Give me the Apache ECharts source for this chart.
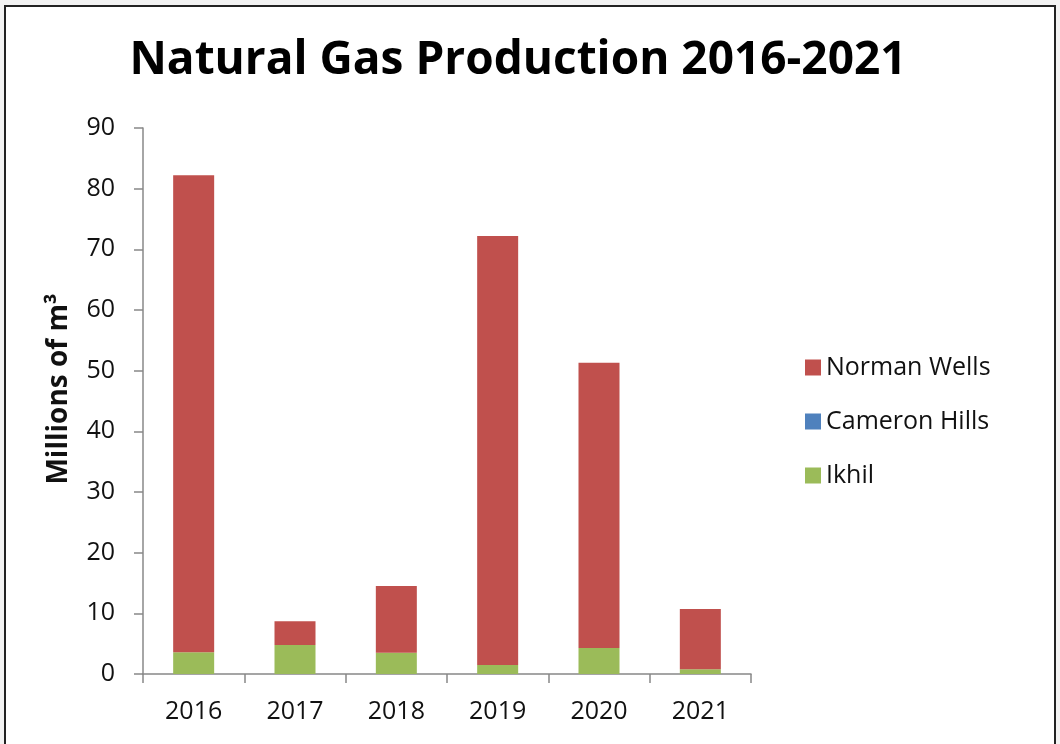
<!DOCTYPE html>
<html>
<head>
<meta charset="utf-8">
<script src="https://cdn.jsdelivr.net/npm/echarts@6/dist/echarts.min.js"></script>
<style>
  html, body { margin: 0; padding: 0; background: #f2f2f2; }
  #frame { position: absolute; left: 4px; top: 5px; width: 1048px; height: 760px; border: 2px solid #222; background: #fff; }
  #chart { position: absolute; left: 0; top: 0; width: 1060px; height: 744px; }
</style>
</head>
<body>
<div id="frame"></div>
<div id="chart"></div>
<script>
const years = ['2016', '2017', '2018', '2019', '2020', '2021'];
const ikhil = [3.6, 4.8, 3.5, 1.5, 4.3, 0.8];
const cameronHills = [0, 0, 0, 0, 0, 0];
const normanWells = [78.6, 3.9, 11.0, 70.7, 47.0, 9.9];

const chart = echarts.init(document.getElementById('chart'));
const font = '"Open Sans", "Noto Sans", sans-serif';

const option = {
    backgroundColor: 'transparent',
    animation: false,
    title: {
        text: 'Natural Gas Production 2016-2021',
        left: 513,
        top: 33,
        textAlign: 'center',
        textStyle: {
            fontFamily: font,
            fontWeight: 'bold',
            fontSize: 46,
            color: '#000'
        }
    },
    legend: {
        orient: 'vertical',
        left: 800,
        top: 350,
        itemWidth: 16,
        itemHeight: 16,
        itemGap: 29,
        icon: 'rect',
        data: ['Norman Wells', 'Cameron Hills', 'Ikhil'],
        textStyle: { fontFamily: font, fontSize: 25, color: '#111' }
    },
    grid: { left: 143, right: 309, top: 128, bottom: 70 },
    xAxis: {
        type: 'category',
        data: years,
        axisLine: { lineStyle: { color: '#888', width: 1.5 } },
        axisTick: { show: true, length: 9, lineStyle: { color: '#888', width: 1.5 } },
        axisLabel: { fontFamily: font, fontSize: 25, color: '#111', margin: 25 }
    },
    yAxis: {
        type: 'value',
        min: 0,
        max: 90,
        interval: 10,
        name: 'Millions of m³',
        nameLocation: 'middle',
        nameGap: 70,
        nameTextStyle: {
            fontFamily: font, fontSize: 28, fontWeight: 'bold', color: '#111',
            padding: [0, 0, 0, 24]
        },
        axisLine: { show: true, lineStyle: { color: '#888', width: 1.5 } },
        axisTick: { show: true, length: 9, lineStyle: { color: '#888', width: 1.5 } },
        splitLine: { show: false },
        axisLabel: { fontFamily: font, fontSize: 25, color: '#111', margin: 28 }
    },
    series: [
        {
            name: 'Ikhil', type: 'bar', stack: 'gas', barWidth: 41, data: ikhil,
            itemStyle: { color: '#9bbb59' }
        },
        {
            name: 'Cameron Hills', type: 'bar', stack: 'gas', barWidth: 41, data: cameronHills,
            itemStyle: { color: '#4f81bd' }
        },
        {
            name: 'Norman Wells', type: 'bar', stack: 'gas', barWidth: 41, data: normanWells,
            itemStyle: { color: '#c0504d' }
        }
    ]
};
chart.setOption(option);
</script>
</body>
</html>
